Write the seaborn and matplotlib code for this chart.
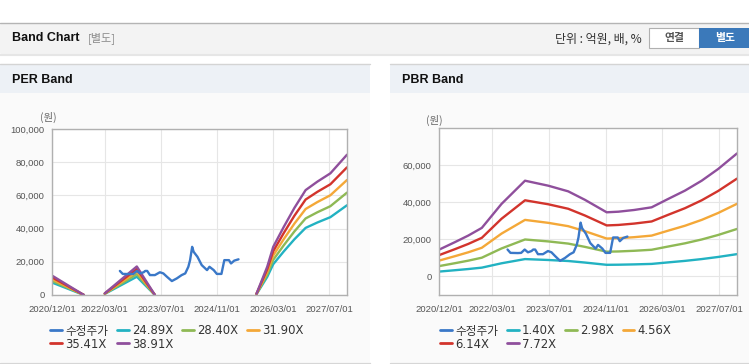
import pandas as pd
import matplotlib
matplotlib.use("Agg")
import matplotlib.pyplot as plt
import matplotlib.dates as mdates
from matplotlib.patches import Rectangle
from matplotlib.lines import Line2D
from matplotlib.ticker import FuncFormatter
import seaborn as sns

# ---- data ----
# 수정주가 (adjusted price), shared by both panels
price_dates = ["2022-07-10", "2022-08-04", "2022-10-07", "2022-11-04", "2022-12-04",
               "2023-01-01", "2023-02-01", "2023-02-15", "2023-03-04", "2023-03-28",
               "2023-05-10", "2023-06-22", "2023-07-22", "2023-08-22", "2023-10-04",
               "2023-11-16", "2023-12-28", "2024-01-28", "2024-02-24", "2024-03-10",
               "2024-03-28", "2024-04-10", "2024-05-13", "2024-06-19", "2024-08-04",
               "2024-08-25", "2024-10-01", "2024-10-28", "2024-12-07", "2025-01-01",
               "2025-02-10", "2025-02-28", "2025-03-28", "2025-05-04"]
price_vals = [14500, 12700, 12600, 12700, 14500, 13000, 13700, 14500, 14500, 12000,
              12000, 13700, 13000, 11000, 8400, 10000, 12000, 13000, 17000, 21000,
              29000, 26000, 23000, 18000, 15000, 17000, 15000, 12700, 12700, 21000,
              21000, 19000, 20700, 21500]

# EPS behind the PER band (segments break where EPS turns negative)
per_dates = ["2020-12-01", "2021-09-01",
             "2022-03-01", "2022-12-04", "2023-05-10",
             "2025-10-07", "2026-01-08", "2026-03-01", "2026-06-01", "2026-09-01",
             "2026-12-07", "2027-03-19", "2027-07-10", "2027-12-01"]
per_eps = [298, 0, 26, 442, 0, 20, 437, 745, 1056, 1349, 1624, 1755, 1884, 2172]
per_seg = [1, 1, 2, 2, 2, 3, 3, 3, 3, 3, 3, 3, 3, 3]
per_mult = [24.89, 28.40, 31.90, 35.41, 38.91]

# BPS behind the PBR band
pbr_dates = ["2020-12-01", "2021-04-13", "2021-08-07", "2021-12-01", "2022-05-19",
             "2022-12-07", "2023-06-25", "2023-12-13", "2024-05-04", "2024-11-07",
             "2025-02-16", "2025-07-01", "2025-11-28", "2026-04-19", "2026-09-10",
             "2027-02-01", "2027-06-22", "2027-12-01"]
pbr_bps = [1878, 2390, 2855, 3389, 5061, 6684, 6334, 5940, 5350, 4478,
           4520, 4640, 4826, 5411, 5990, 6685, 7500, 8587]
pbr_seg = [1] * len(pbr_dates)
pbr_mult = [1.40, 2.98, 4.56, 6.14, 7.72]

tick_dates = ["2020-12-01", "2022-03-01", "2023-07-01", "2024-11-01", "2026-03-01", "2027-07-01"]
per_yticks = [0, 20000, 40000, 60000, 80000, 100000]
pbr_yticks = [0, 20000, 40000, 60000]

price_name = "수정주가"
band_colors = ["#22b2c2", "#8fb955", "#f4a838", "#d2342c", "#8f4f9c"]
price_color = "#3a78c8"

W, H = 749, 364


def fx(x):
    return x / W


def fy(y):
    return 1 - y / H


def rect(fig, x0, y0, x1, y1, color, ec="none", z=-5):
    fig.patches.append(Rectangle((fx(x0), fy(y1)), (x1 - x0) / W, (y1 - y0) / H,
                                 transform=fig.transFigure, facecolor=color,
                                 edgecolor=ec, lw=0.8, zorder=z))


def hline(fig, x0, x1, y, color, lw=1.0):
    fig.lines.append(Line2D([fx(x0), fx(x1)], [fy(y), fy(y)], transform=fig.transFigure,
                            color=color, lw=lw, zorder=-4))


sns.set_style("white")
plt.rcParams["font.family"] = ["DejaVu Sans", "Noto Sans CJK KR"]

fig = plt.figure(figsize=(7.49, 3.64), dpi=100)
fig.patch.set_facecolor("white")

# top header bar
hline(fig, 0, W, 22.5, "#b4b4b4")
rect(fig, 0, 23, W, 53, "#f3f3f3")
hline(fig, 0, W, 53.5, "#c4c4c4")
hline(fig, 0, W, 55, "#e6e6e6", lw=1.5)
fig.text(fx(12), fy(38), "Band Chart", fontsize=9, fontweight="bold",
         family="Liberation Sans", va="center", color="#111111")
fig.text(fx(88), fy(38), "[별도]", fontsize=8, family=["Noto Sans CJK KR"],
         va="center", color="#8a8a8a")
fig.text(fx(642), fy(39), "단위 : 억원, 배, %", fontsize=8.6, family=["Noto Sans CJK KR"],
         va="center", ha="right", color="#333333")
rect(fig, 648.5, 28, 699, 47.5, "white", ec="#b0b0b0", z=-3)
fig.text(fx(674), fy(38.5), "연결", fontsize=7.8, fontweight="bold",
         family=["Noto Sans CJK KR"], va="center", ha="center", color="#555555")
rect(fig, 699, 28, W, 47.5, "#3b79ba", z=-3)
fig.text(fx(725), fy(38.5), "별도", fontsize=7.8, fontweight="bold",
         family=["Noto Sans CJK KR"], va="center", ha="center", color="white")

# panel frames
for px0, px1, title in [(0, 370, "PER Band"), (390, W, "PBR Band")]:
    rect(fig, px0, 64, px1, 92.5, "#edf1f6")
    rect(fig, px0, 92.5, px1, 362, "#fafafa")
    hline(fig, px0, px1, 64, "#d4d4d4")
    hline(fig, px0, px1, 362.5, "#d6d6d6")
    fig.text(fx(px0 + 12), fy(80), title, fontsize=9, fontweight="bold",
             family="Liberation Sans", va="center", color="#111111")


def panel(ax, dates, base, segs, mults, yticks, ylim):
    labels = [f"{m:.2f}X" for m in mults]
    rows = []
    for lab, m in zip(labels, mults):
        for d, b, s in zip(dates, base, segs):
            rows.append({"date": d, "value": b * m, "series": lab, "seg": s})
    bands = pd.DataFrame(rows)
    bands["date"] = pd.to_datetime(bands["date"])
    price = pd.DataFrame({"date": pd.to_datetime(price_dates), "value": price_vals})

    pal = dict(zip(labels, band_colors))
    sns.lineplot(data=bands, x="date", y="value", hue="series", units="seg",
                 estimator=None, hue_order=labels, palette=pal, linewidth=1.7,
                 legend=False, ax=ax)
    sns.lineplot(data=price, x="date", y="value", color=price_color,
                 linewidth=1.7, ax=ax)

    ax.set_xlim(pd.Timestamp("2020-12-01"), pd.Timestamp("2027-12-01"))
    ax.set_ylim(*ylim)
    ax.set_xticks(pd.to_datetime(tick_dates))
    ax.xaxis.set_major_formatter(mdates.DateFormatter("%Y/%m/%d"))
    ax.set_yticks(yticks)
    ax.yaxis.set_major_formatter(FuncFormatter(lambda v, p: f"{v:,.0f}"))
    ax.set_xlabel("")
    ax.set_ylabel("")
    ax.set_facecolor("white")
    ax.grid(True, color="#e6e6e6", lw=0.8)
    for sp in ax.spines.values():
        sp.set_color("#b0b0b0")
        sp.set_linewidth(1.0)
    ax.tick_params(axis="both", length=3, width=0.8, color="#b0b0b0",
                   labelsize=6.8, labelcolor="#555555", pad=2.5)
    ax.tick_params(axis="x", pad=4)
    for lab in ax.get_xticklabels() + ax.get_yticklabels():
        lab.set_fontfamily("Liberation Sans")

    # legend in the site's row order
    h = {price_name: Line2D([], [], color=price_color, lw=2)}
    for lab, c in zip(labels, band_colors):
        h[lab] = Line2D([], [], color=c, lw=2)
    order = [price_name, labels[3], labels[0], labels[4], labels[1], labels[2]]
    return [h[k] for k in order], order


leg_kw = dict(ncol=4, loc="upper left", frameon=False, fontsize=8.4, handlelength=1.0,
              handletextpad=0.3, columnspacing=0.75, labelspacing=0.0, borderpad=0,
              borderaxespad=0)

ax1 = fig.add_axes([fx(52.3), fy(295), (347 - 52.3) / W, (295 - 129) / H])
hs, ls = panel(ax1, per_dates, per_eps, per_seg, per_mult, per_yticks, (0, 100000))
leg1 = fig.legend(hs, ls, bbox_to_anchor=(fx(50), fy(324.5)), **leg_kw)
fig.text(fx(48), fy(117), "(원)", fontsize=7.5, family=["Noto Sans CJK KR"],
         ha="center", va="center", color="#666666")

ax2 = fig.add_axes([fx(439.3), fy(295), (737 - 439.3) / W, (295 - 128) / H])
hs, ls = panel(ax2, pbr_dates, pbr_bps, pbr_seg, pbr_mult, pbr_yticks, (-10000, 80000))
leg2 = fig.legend(hs, ls, bbox_to_anchor=(fx(440), fy(324.5)), **leg_kw)
fig.text(fx(434), fy(120), "(원)", fontsize=7.5, family=["Noto Sans CJK KR"],
         ha="center", va="center", color="#666666")

for leg in (leg1, leg2):
    for t in leg.get_texts():
        t.set_color("#333333")

fig.savefig("out.png", dpi=100)
